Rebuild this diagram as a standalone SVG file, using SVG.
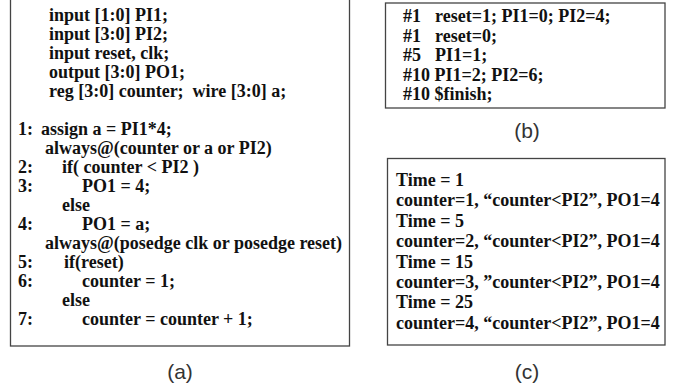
<svg xmlns="http://www.w3.org/2000/svg" width="674" height="388" viewBox="0 0 674 388">
<style>
.box{fill:#fff;stroke:#444;stroke-width:1.3}
.t{font-family:"Liberation Serif","Times New Roman",serif;font-weight:bold;font-size:18px;fill:#111}
.lbl{font-family:"Liberation Sans",Arial,sans-serif;font-size:21px;fill:#333;text-anchor:middle}
</style>
<rect width="674" height="388" fill="#fff"/>
<g id="panel-a">
<rect class="box" x="10.5" y="-5" width="339" height="351"/>
<text class="t" x="49" y="20.5">input [1:0] PI1;</text>
<text class="t" x="49" y="39.5">input [3:0] PI2;</text>
<text class="t" x="49" y="58.5">input reset, clk;</text>
<text class="t" x="49" y="77.5">output [3:0] PO1;</text>
<text class="t" x="49" y="96.5" xml:space="preserve">reg [3:0] counter;  wire [3:0] a;</text>
<text class="t" x="18" y="134.5">1:</text>
<text class="t" x="41" y="134.5">assign a = PI1*4;</text>
<text class="t" x="45" y="153.5">always@(counter or a or PI2)</text>
<text class="t" x="18" y="172.5">2:</text>
<text class="t" x="62" y="172.5">if( counter &lt; PI2 )</text>
<text class="t" x="18" y="191.5">3:</text>
<text class="t" x="82" y="191.5">PO1 = 4;</text>
<text class="t" x="62" y="210.5">else</text>
<text class="t" x="18" y="229.5">4:</text>
<text class="t" x="82" y="229.5">PO1 = a;</text>
<text class="t" x="45" y="248.5">always@(posedge clk or posedge reset)</text>
<text class="t" x="18" y="267.5">5:</text>
<text class="t" x="64" y="267.5">if(reset)</text>
<text class="t" x="18" y="286.5">6:</text>
<text class="t" x="82" y="286.5">counter = 1;</text>
<text class="t" x="62" y="305.5">else</text>
<text class="t" x="18" y="324.5">7:</text>
<text class="t" x="82" y="324.5">counter = counter + 1;</text>
<text class="lbl" x="180" y="379">(a)</text>
</g>
<g id="panel-b">
<rect class="box" x="385.5" y="3" width="279.5" height="105"/>
<text class="t" x="403" y="22">#1</text>
<text class="t" x="435" y="22">reset=1; PI1=0; PI2=4;</text>
<text class="t" x="403" y="41.5">#1</text>
<text class="t" x="435" y="41.5">reset=0;</text>
<text class="t" x="403" y="61">#5</text>
<text class="t" x="435" y="61">PI1=1;</text>
<text class="t" x="403" y="80.5">#10 PI1=2; PI2=6;</text>
<text class="t" x="403" y="100">#10 $finish;</text>
<text class="lbl" x="527" y="138">(b)</text>
</g>
<g id="panel-c">
<rect class="box" x="387.5" y="158.5" width="277.5" height="186.5"/>
<text class="t" x="396" y="186">Time = 1</text>
<text class="t" x="396" y="206.4">counter=1, “counter&lt;PI2”, PO1=4</text>
<text class="t" x="396" y="226.8">Time = 5</text>
<text class="t" x="396" y="247.2">counter=2, “counter&lt;PI2”, PO1=4</text>
<text class="t" x="396" y="267.6">Time = 15</text>
<text class="t" x="396" y="288">counter=3, ”counter&lt;PI2”, PO1=4</text>
<text class="t" x="396" y="308.4">Time = 25</text>
<text class="t" x="396" y="328.8">counter=4, “counter&lt;PI2”, PO1=4</text>
<text class="lbl" x="527" y="379">(c)</text>
</g>
</svg>
